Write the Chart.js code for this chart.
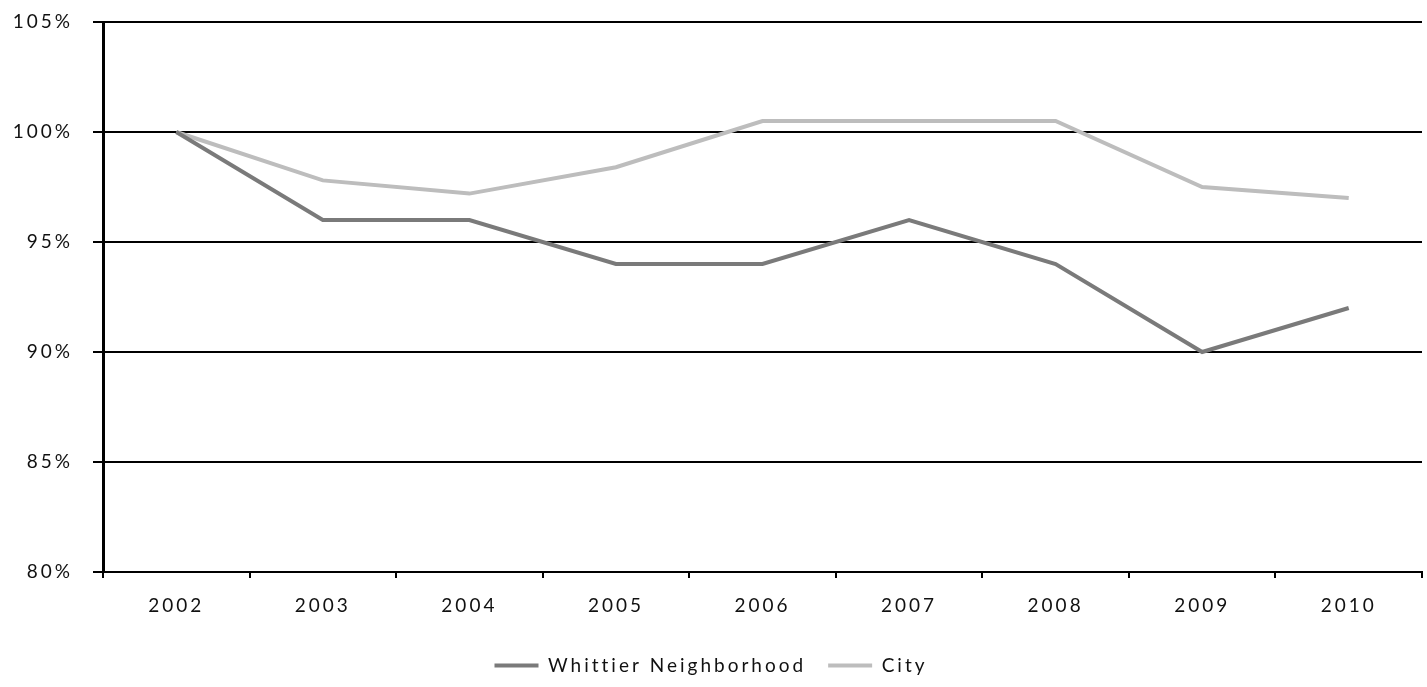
<!DOCTYPE html>
<html>
<head>
<meta charset="utf-8">
<script src="https://cdn.jsdelivr.net/npm/chart.js@4.4.0/dist/chart.umd.min.js"></script>
<style>
  html, body { margin: 0; padding: 0; background: #fff; }
  #wrap { width: 1427px; height: 687px; }
</style>
</head>
<body>
<div id="wrap"><canvas id="trendChart" width="1427" height="687"></canvas></div>
<script>
// Data
const years = ['2002', '2003', '2004', '2005', '2006', '2007', '2008', '2009', '2010'];
const whittier = [100, 96, 96, 94, 94, 96, 94, 90, 92];
const city = [100, 97.8, 97.2, 98.4, 100.5, 100.5, 100.5, 97.5, 97.0];

// letter spacing like the scanned figure
const spacing = {
    id: 'spacing',
    beforeLayout(chart) { chart.ctx.letterSpacing = '3px'; },
    beforeDraw(chart) { chart.ctx.letterSpacing = '3px'; }
};

let ctx = document.getElementById('trendChart').getContext('2d');
let trendChart = new Chart(ctx, {
    type: 'line',
    data: {
        labels: years,
        datasets: [
            {
                label: 'Whittier Neighborhood',
                data: whittier,
                borderColor: '#7a7a7a',
                backgroundColor: '#7a7a7a',
                borderWidth: 4,
                pointRadius: 0,
                pointStyle: 'line',
                tension: 0,
                fill: false
            },
            {
                label: 'City',
                data: city,
                borderColor: '#bdbdbd',
                backgroundColor: '#bdbdbd',
                borderWidth: 4,
                pointRadius: 0,
                pointStyle: 'line',
                tension: 0,
                fill: false
            }
        ]
    },
    options: {
        responsive: false,
        animation: false,
        layout: { padding: { top: 22, right: 5, left: 0, bottom: 2 } },
        plugins: {
            tooltip: { enabled: false },
            legend: {
                position: 'bottom',
                labels: {
                    usePointStyle: true,
                    pointStyleWidth: 44,
                    color: '#111',
                    font: { family: 'Lato', size: 19 },
                    padding: 22
                }
            }
        },
        scales: {
            x: {
                offset: true,
                grid: { offset: true, drawOnChartArea: false, drawTicks: true, tickLength: 6, color: '#000', lineWidth: 2 },
                border: { color: '#000', width: 2 },
                ticks: { color: '#111', font: { family: 'Lato', size: 19 }, padding: 16 },
                afterFit(axis) { axis.height = 62; }
            },
            y: {
                min: 80,
                max: 105,
                grid: { color: '#000', lineWidth: 2, tickLength: 10 },
                border: { color: '#000', width: 3 },
                ticks: {
                    stepSize: 5,
                    color: '#111',
                    font: { family: 'Lato', size: 19 },
                    padding: 20,
                    callback: v => v + '%'
                },
                afterFit(axis) {
                    axis.width = 103;
                    axis.paddingTop = 0;
                    axis.paddingBottom = 0;
                }
            }
        }
    },
    plugins: [spacing]
});
</script>
</body>
</html>
